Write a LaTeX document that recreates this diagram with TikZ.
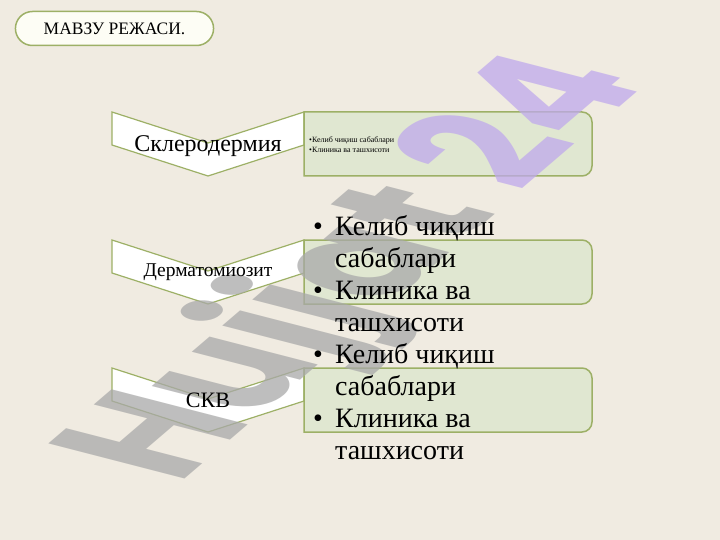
\documentclass[tikz,border=0pt]{standalone}
\usepackage{fontspec}
\usetikzlibrary{shapes.misc}
\setmainfont{Liberation Serif}
\newfontfamily\wmfont{Poppins}
\definecolor{pagebg}{HTML}{F0EBE1}
\definecolor{linegreen}{HTML}{9DB066}
\definecolor{boxfill}{HTML}{E0E7D1}
\definecolor{pillfill}{HTML}{FDFDF5}
\definecolor{wmgray}{HTML}{A9A9A9}
\definecolor{wmpurple}{HTML}{BFA9EC}
\newcommand{\bul}{\makebox[22pt][l]{\textbullet}}
\newcommand{\bulskip}{\hspace*{22pt}}

\begin{document}
\begin{tikzpicture}[x=1pt, y=-1pt,
    topic/.style ={rounded rectangle, draw=linegreen, line width=1.5pt, fill=pillfill,
        minimum width=196pt, minimum height=34pt, font=\fontsize{17.5}{20}\selectfont},
    chevron/.style ={draw=linegreen, line width=1.2pt, fill=white},
    infobox/.style ={draw=linegreen, line width=1.5pt, fill=boxfill},
    bigtext/.style ={inner sep=0pt, align=left, font=\fontsize{28}{32}\selectfont},
    smalltext/.style ={inner sep=0pt, align=left, font=\fontsize{8}{9.5}\selectfont},
    wmark/.style ={inner sep=0pt, opacity=0.75, font=\wmfont\bfseries\fontsize{100}{100}\selectfont}]
   \useasboundingbox (0,0) rectangle (720,540);
   \fill[pagebg] (0,0) rectangle (720,540);
   \node[topic, inner xsep=12pt] (plan)  at (114.5,28.5)  {\makebox[172pt]{МАВЗУ РЕЖАСИ.}};
   % chevrons
   \draw[chevron] (112,112) -- (208,143) -- (304,112) -- (304,145) -- (208,176) -- (112,145) -- cycle;
   \draw[chevron] (112,240) -- (208,271) -- (304,240) -- (304,273) -- (208,304) -- (112,273) -- cycle;
   \draw[chevron] (112,368) -- (208,399) -- (304,368) -- (304,401) -- (208,432) -- (112,401) -- cycle;
   % boxes
   \draw[infobox] (304,112) -- (582,112) arc[start angle=-90, end angle=0, radius=10]
      -- (592,166) arc[start angle=0, end angle=90, radius=10] -- (304,176) -- cycle;
   \draw[infobox] (304,240) -- (582,240) arc[start angle=-90, end angle=0, radius=10]
      -- (592,294) arc[start angle=0, end angle=90, radius=10] -- (304,304) -- cycle;
   \draw[infobox] (304,368) -- (582,368) arc[start angle=-90, end angle=0, radius=10]
      -- (592,422) arc[start angle=0, end angle=90, radius=10] -- (304,432) -- cycle;
   % watermark
   \node[wmark, anchor=base west, cm={1.04,0.89,-1.94,0.5,(0,0)}] (stamp) at (178,485)
      {\color{wmgray}Hujjat \color{wmpurple}24};
   % texts
   \node[font=\fontsize{24}{27}\selectfont] (scl) at (208,146) {Склеродермия};
   \node[font=\fontsize{19.5}{22}\selectfont] (derm) at (208,272) {Дерматомиозит};
   \node[font=\fontsize{22}{25}\selectfont] (skv) at (208,400) {СКВ};
   \node[smalltext, anchor=north west] (scllist) at (309,137)
      {\textbullet Келиб чиқиш сабаблари\\\textbullet Клиника ва ташхисоти};
   \node[bigtext, anchor=north west] (dermlist) at (313,215)
      {\bul Келиб чиқиш\\\bulskip сабаблари\\\bul Клиника ва\\\bulskip ташхисоти};
   \node[bigtext, anchor=north west] (skvlist) at (313,343)
      {\bul Келиб чиқиш\\\bulskip сабаблари\\\bul Клиника ва\\\bulskip ташхисоти};
 \end{tikzpicture}
\end{document}
